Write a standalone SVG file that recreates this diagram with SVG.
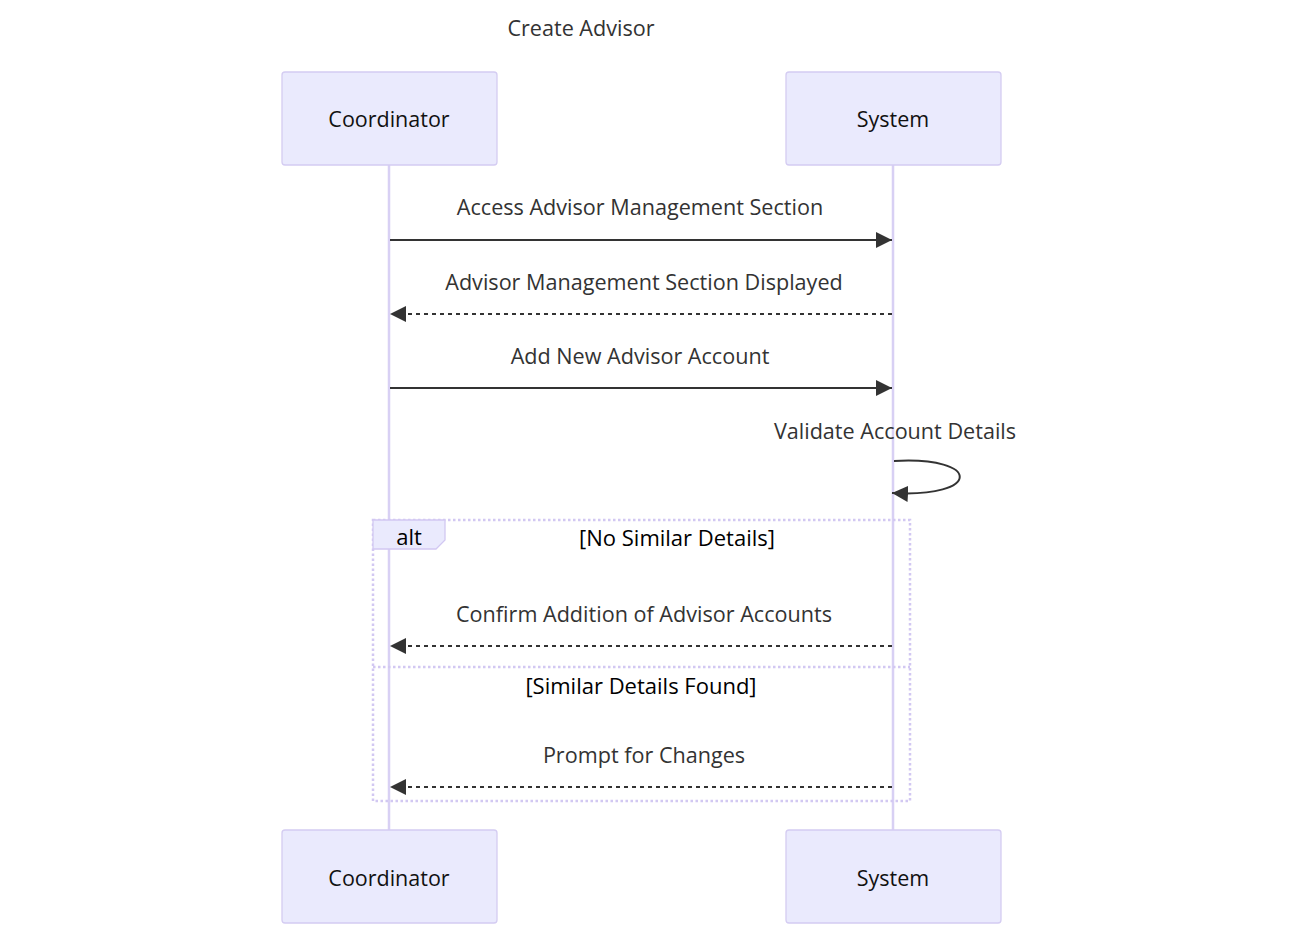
<svg xmlns="http://www.w3.org/2000/svg" width="1300" height="939" viewBox="0 0 1300 939">
<defs>
<style>
.actor{fill:#eaeafd;stroke:#d4ccf2;stroke-width:1.3}
.actor-text{font-family:"Open Sans","DejaVu Sans",sans-serif;font-size:21.5px;fill:#111;text-anchor:middle;dominant-baseline:central}
.life{stroke:#d8d0f4;stroke-width:2.5}
.msg{stroke:#333;stroke-width:2;fill:none}
.dash{stroke-dasharray:4,4}
.mtext{font-family:"Open Sans","DejaVu Sans",sans-serif;font-size:21.6px;fill:#333;text-anchor:middle;dominant-baseline:central}
.loop{stroke:#d2c8f2;stroke-width:2.5;fill:none;stroke-dasharray:2.5,2.5}
.ltext{font-family:"Open Sans","DejaVu Sans",sans-serif;font-size:22px;fill:#000;text-anchor:middle;dominant-baseline:central}
</style>
<marker id="ah" viewBox="0 0 16 16" refX="16" refY="8" markerWidth="16" markerHeight="16" markerUnits="userSpaceOnUse" orient="auto">
<path d="M0,0 L16,8 L0,16 z" fill="#333"/>
</marker>
</defs>
<rect width="1300" height="939" fill="#fff"/>
<text x="581" y="27" class="mtext">Create Advisor</text>
<g id="lifelines">
<line class="life" x1="389" y1="165" x2="389" y2="830"/>
<line class="life" x1="893" y1="165" x2="893" y2="830"/>
</g>
<g id="actor-coordinator-top"><rect class="actor" x="282" y="72" width="215" height="93" rx="3"/><text class="actor-text" x="389" y="118">Coordinator</text></g>
<g id="actor-system-top"><rect class="actor" x="786" y="72" width="215" height="93" rx="3"/><text class="actor-text" x="893" y="118">System</text></g>
<g id="actor-coordinator-bottom"><rect class="actor" x="282" y="830" width="215" height="93" rx="3"/><text class="actor-text" x="389" y="877">Coordinator</text></g>
<g id="actor-system-bottom"><rect class="actor" x="786" y="830" width="215" height="93" rx="3"/><text class="actor-text" x="893" y="877">System</text></g>
<g id="alt-block">
<rect class="loop" x="373" y="520" width="537" height="281"/>
<line class="loop" x1="373" y1="667" x2="910" y2="667"/>
<path d="M373,520 L445,520 L445,540 L436,549 L373,549 z" fill="#eaeafd" stroke="#d2c8f2" stroke-width="1.3"/>
<text class="ltext" x="409" y="536">alt</text>
<text class="ltext" x="677" y="537">[No Similar Details]</text>
<text class="ltext" x="641" y="685">[Similar Details Found]</text>
</g>
<g id="connectors">
<text class="mtext" x="640" y="206">Access Advisor Management Section</text>
<line class="msg" x1="390" y1="240" x2="892" y2="240" marker-end="url(#ah)"/>
<text class="mtext" x="644" y="281">Advisor Management Section Displayed</text>
<line class="msg dash" x1="892" y1="314" x2="390" y2="314" marker-end="url(#ah)"/>
<text class="mtext" x="640" y="355">Add New Advisor Account</text>
<line class="msg" x1="390" y1="388" x2="892" y2="388" marker-end="url(#ah)"/>
<text class="mtext" x="895" y="430">Validate Account Details</text>
<path class="msg" d="M894,461 C982,456 982,498 892,493" marker-end="url(#ah)"/>
<text class="mtext" x="644" y="613">Confirm Addition of Advisor Accounts</text>
<line class="msg dash" x1="892" y1="646" x2="390" y2="646" marker-end="url(#ah)"/>
<text class="mtext" x="644" y="754">Prompt for Changes</text>
<line class="msg dash" x1="892" y1="787" x2="390" y2="787" marker-end="url(#ah)"/>
</g>
</svg>
